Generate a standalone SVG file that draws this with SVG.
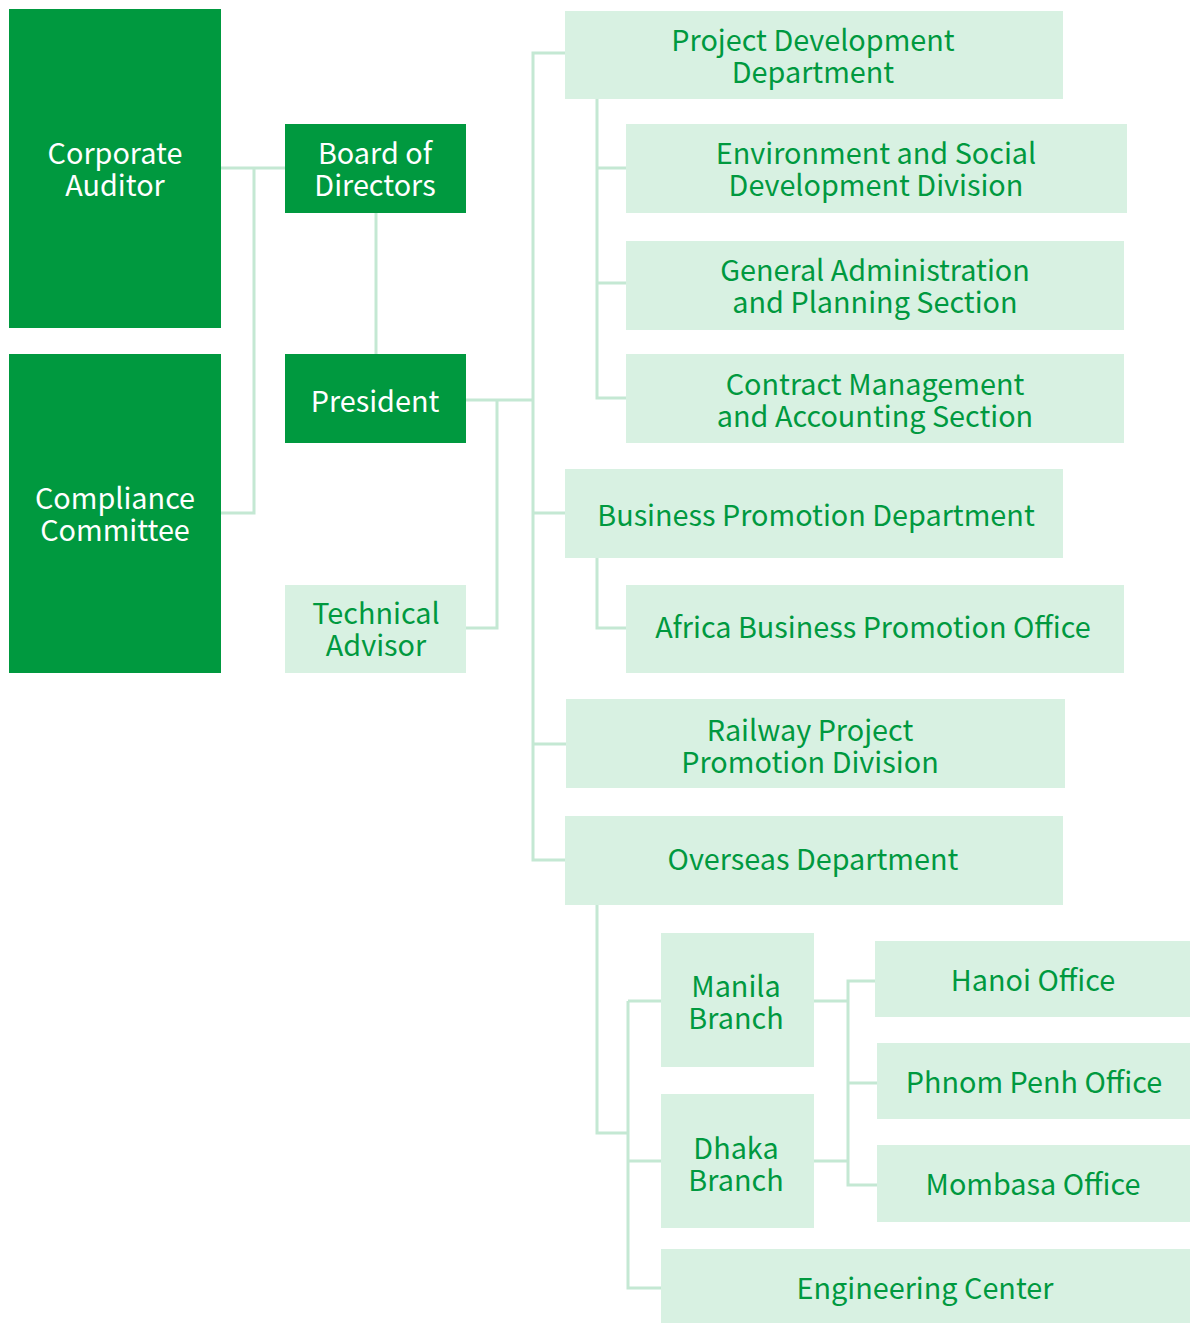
<svg xmlns="http://www.w3.org/2000/svg" width="1190" height="1323" viewBox="0 0 1190 1323">
<style>
.dk{fill:#00993f}
.lt{fill:#d8f1e2}
.tw{fill:#ffffff}
.tg{fill:#00993f}
text{font-family:"Noto Sans CJK JP","Noto Sans",sans-serif;font-size:28.8px;text-anchor:middle;dominant-baseline:central}
.ln{fill:none;stroke:#c4e8d3;stroke-width:3}
</style>
<rect width="1190" height="1323" fill="#ffffff"/>
<g id="connectors" class="ln">
<path d="M221 168H285M254 168V513H221"/>
<path d="M376 213V354"/>
<path d="M466 400H533M497 400V628H466"/>
<path d="M565 53H533V860H565M533 513H565M533 744H566"/>
<path d="M597 99V398H626M597 168H626M597 283H626"/>
<path d="M597 558V628H626"/>
<path d="M597 905V1133H628M628 1001V1288H661M628 1001H661M628 1161H661"/>
<path d="M814 1001H848M814 1161H848M875 981H848V1185H877M848 1083H877"/>
</g>
<g id="corporate-auditor"><rect class="dk" x="9" y="9" width="212" height="319"/><text class="tw"><tspan x="115" y="151">Corporate</tspan><tspan x="115" y="183">Auditor</tspan></text></g>
<g id="compliance-committee"><rect class="dk" x="9" y="354" width="212" height="319"/><text class="tw"><tspan x="115" y="496">Compliance</tspan><tspan x="115" y="528">Committee</tspan></text></g>
<g id="board"><rect class="dk" x="285" y="124" width="181" height="89"/><text class="tw"><tspan x="375" y="151">Board of</tspan><tspan x="375" y="183">Directors</tspan></text></g>
<g id="president"><rect class="dk" x="285" y="354" width="181" height="89"/><text class="tw" x="375" y="399">President</text></g>
<g id="technical-advisor"><rect class="lt" x="285" y="585" width="181" height="88"/><text class="tg"><tspan x="376" y="611">Technical</tspan><tspan x="376" y="643">Advisor</tspan></text></g>
<g id="project-development"><rect class="lt" x="565" y="11" width="498" height="88"/><text class="tg"><tspan x="813" y="38">Project Development</tspan><tspan x="813" y="70">Department</tspan></text></g>
<g id="environment-social"><rect class="lt" x="626" y="124" width="501" height="89"/><text class="tg"><tspan x="876" y="151">Environment and Social</tspan><tspan x="876" y="183">Development Division</tspan></text></g>
<g id="general-admin"><rect class="lt" x="626" y="241" width="498" height="89"/><text class="tg"><tspan x="875" y="268">General Administration</tspan><tspan x="875" y="300">and Planning Section</tspan></text></g>
<g id="contract-management"><rect class="lt" x="626" y="354" width="498" height="89"/><text class="tg"><tspan x="875" y="382">Contract Management</tspan><tspan x="875" y="414">and Accounting Section</tspan></text></g>
<g id="business-promotion"><rect class="lt" x="565" y="469" width="498" height="89"/><text class="tg" x="816" y="513">Business Promotion Department</text></g>
<g id="africa"><rect class="lt" x="626" y="585" width="498" height="88"/><text class="tg" x="873" y="625">Africa Business Promotion Office</text></g>
<g id="railway"><rect class="lt" x="566" y="699" width="499" height="89"/><text class="tg"><tspan x="810" y="728">Railway Project</tspan><tspan x="810" y="760">Promotion Division</tspan></text></g>
<g id="overseas"><rect class="lt" x="565" y="816" width="498" height="89"/><text class="tg" x="813" y="857">Overseas Department</text></g>
<g id="manila"><rect class="lt" x="661" y="933" width="153" height="134"/><text class="tg"><tspan x="736" y="984">Manila</tspan><tspan x="736" y="1016">Branch</tspan></text></g>
<g id="dhaka"><rect class="lt" x="661" y="1094" width="153" height="134"/><text class="tg"><tspan x="736" y="1146">Dhaka</tspan><tspan x="736" y="1178">Branch</tspan></text></g>
<g id="hanoi"><rect class="lt" x="875" y="941" width="315" height="76"/><text class="tg" x="1033" y="978">Hanoi Office</text></g>
<g id="phnom-penh"><rect class="lt" x="877" y="1043" width="313" height="76"/><text class="tg" x="1034" y="1080">Phnom Penh Office</text></g>
<g id="mombasa"><rect class="lt" x="877" y="1145" width="313" height="77"/><text class="tg" x="1033" y="1182">Mombasa Office</text></g>
<g id="engineering"><rect class="lt" x="661" y="1249" width="529" height="74"/><text class="tg" x="925" y="1286">Engineering Center</text></g>
</svg>
